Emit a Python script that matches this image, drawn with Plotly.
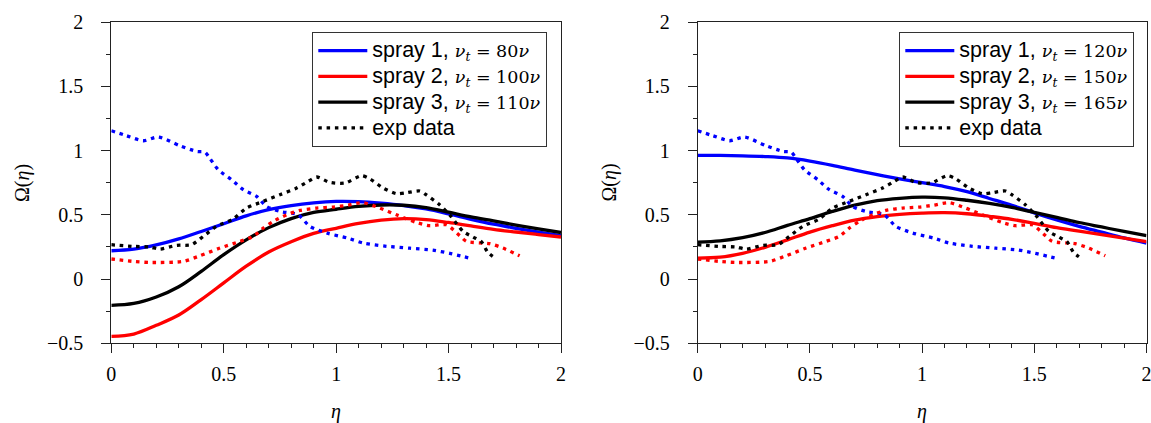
import plotly.graph_objects as go

# ---------------- data ----------------
eta = [0.0, 0.1, 0.2, 0.3, 0.4, 0.5, 0.6, 0.7, 0.8, 0.9, 1.0,
       1.1, 1.2, 1.3, 1.4, 1.5, 1.6, 1.7, 1.8, 1.9, 2.0]

# left panel (nu_t = 80, 100, 110 nu)
left_spray1 = [0.22, 0.232, 0.265, 0.312, 0.37, 0.43, 0.492, 0.54, 0.572, 0.593, 0.604,
               0.602, 0.59, 0.572, 0.545, 0.507, 0.465, 0.427, 0.395, 0.365, 0.337]
left_spray2 = [-0.446, -0.428, -0.36, -0.28, -0.16, -0.03, 0.1, 0.21, 0.29, 0.355, 0.395,
               0.433, 0.458, 0.47, 0.463, 0.44, 0.413, 0.387, 0.366, 0.346, 0.327]
left_spray3 = [-0.205, -0.19, -0.14, -0.06, 0.06, 0.19, 0.305, 0.40, 0.47, 0.518, 0.543,
               0.565, 0.576, 0.574, 0.556, 0.52, 0.483, 0.452, 0.42, 0.39, 0.362]

# right panel (nu_t = 120, 150, 165 nu)
right_spray1 = [0.962, 0.962, 0.959, 0.953, 0.942, 0.918, 0.885, 0.847, 0.812, 0.78, 0.75,
                0.72, 0.68, 0.627, 0.574, 0.515, 0.46, 0.41, 0.365, 0.32, 0.28]
right_spray2 = [0.163, 0.17, 0.2, 0.247, 0.305, 0.365, 0.415, 0.458, 0.485, 0.503, 0.513,
                0.517, 0.508, 0.488, 0.465, 0.433, 0.4, 0.373, 0.345, 0.318, 0.292]
right_spray3 = [0.288, 0.297, 0.322, 0.362, 0.418, 0.47, 0.526, 0.575, 0.61, 0.628, 0.637,
                0.632, 0.613, 0.588, 0.557, 0.518, 0.48, 0.44, 0.405, 0.37, 0.337]

# experimental data (same in both panels)
exp1_eta = [0.0, 0.068, 0.142, 0.209, 0.305, 0.38, 0.416, 0.438, 0.476, 0.535, 0.587,
            0.646, 0.69, 0.75, 0.831, 0.883, 0.958, 1.05, 1.12, 1.224, 1.328, 1.43,
            1.505, 1.565, 1.6]
exp1_val = [1.154, 1.115, 1.076, 1.105, 1.037, 0.993, 0.988, 0.94, 0.85, 0.773, 0.695,
            0.643, 0.565, 0.526, 0.5, 0.41, 0.358, 0.319, 0.28, 0.255, 0.24, 0.225,
            0.2, 0.175, 0.16]

exp2_eta = [0.0, 0.098, 0.172, 0.32, 0.394, 0.483, 0.572, 0.631, 0.676, 0.72, 0.78,
            0.839, 0.913, 0.987, 1.053, 1.12, 1.194, 1.268, 1.357, 1.416, 1.49, 1.55,
            1.58, 1.683, 1.742, 1.816]
exp2_val = [0.156, 0.137, 0.129, 0.137, 0.181, 0.241, 0.293, 0.332, 0.397, 0.448, 0.5,
            0.534, 0.552, 0.56, 0.575, 0.594, 0.552, 0.5, 0.44, 0.415, 0.422, 0.337,
            0.293, 0.275, 0.241, 0.181]

exp3_eta = [0.0, 0.098, 0.172, 0.216, 0.29, 0.357, 0.409, 0.468, 0.542, 0.601, 0.675,
            0.75, 0.824, 0.876, 0.913, 0.972, 1.039, 1.113, 1.15, 1.209, 1.268, 1.313,
            1.372, 1.4, 1.46, 1.505, 1.565, 1.609, 1.646, 1.675, 1.71]
exp3_val = [0.267, 0.254, 0.249, 0.233, 0.262, 0.267, 0.332, 0.41, 0.467, 0.552, 0.604,
            0.656, 0.708, 0.76, 0.794, 0.752, 0.747, 0.804, 0.78, 0.708, 0.664, 0.672,
            0.685, 0.656, 0.578, 0.5, 0.37, 0.327, 0.29, 0.207, 0.16]

left_nu = ["80", "100", "110"]
right_nu = ["120", "150", "165"]

# ---------------- styling ----------------
BLUE, RED, BLACK = "#0000ff", "#ff0000", "#000000"
SERIF = "Liberation Serif"
MATH = "DejaVu Serif"
SANS = "Liberation Sans"
LW = 3.3
DOT = "3.5px,4.8px"


def label(n, nu):
    return (f"<span style=\"font-size:21.5px\">spray {n}, </span>"
            f"<span style=\"font-family:{MATH};font-size:17.5px\"><i>ν</i><sub><i>t</i></sub>"
            f" = {nu}<i>ν</i></span>")


fig = go.Figure()

panels = [
    ("x", "y", "legend", [left_spray1, left_spray2, left_spray3], left_nu),
    ("x2", "y2", "legend2", [right_spray1, right_spray2, right_spray3], right_nu),
]

for xa, ya, lg, sprays, nus in panels:
    for i, (vals, col) in enumerate(zip(sprays, [BLUE, RED, BLACK])):
        fig.add_trace(go.Scatter(
            x=eta, y=vals, mode="lines", xaxis=xa, yaxis=ya, legend=lg,
            line=dict(color=col, width=LW, shape="spline", smoothing=1.0),
            name=label(i + 1, nus[i]), showlegend=True))
    for ex, ey, col, show in [(exp1_eta, exp1_val, BLUE, False),
                              (exp2_eta, exp2_val, RED, False),
                              (exp3_eta, exp3_val, BLACK, True)]:
        fig.add_trace(go.Scatter(
            x=ex, y=ey, mode="lines", xaxis=xa, yaxis=ya, legend=lg,
            line=dict(color=col, width=LW, dash=DOT, shape="spline", smoothing=0.7),
            name="<span style=\"font-size:21.5px\">exp data</span>", showlegend=show))

# Figure fills the whole window; the page margin is removed in post_script.
W, H = 1151, 423


def px(v):  # window x pixel -> paper fraction
    return v / W


def py(v):  # window y pixel (from top) -> paper fraction
    return 1 - v / H


x_dom1 = [px(111.3), px(561.0)]
x_dom2 = [px(697.7), px(1146.5)]
y_dom = [py(343.3), py(22.0)]

axis_common = dict(
    showline=True, linecolor="#222", linewidth=1, mirror=True, automargin=False,
    showgrid=False, zeroline=False, ticks="outside", ticklen=9, tickwidth=1,
    tickcolor="#222", tickfont=dict(family=SERIF, size=20, color="black"),
    ticklabeloverflow="allow",
)

xaxis_kw = dict(axis_common, range=[0, 2], tick0=0, dtick=0.5, ticklabelstandoff=4,
                minor=dict(dtick=0.1, ticks="outside", ticklen=4, tickwidth=1,
                           tickcolor="#222", showgrid=False))
yaxis_kw = dict(axis_common, range=[-0.5, 2], tick0=0, dtick=0.5, ticklabelstandoff=14,
                minor=dict(dtick=0.25, ticks="outside", ticklen=4, tickwidth=1,
                           tickcolor="#222", showgrid=False))

legend_kw = dict(
    font=dict(family=SANS, size=17.5, color="black"),
    bgcolor="white", bordercolor="#333", borderwidth=1,
    xanchor="right", yanchor="top", itemwidth=49,
)

fig.update_layout(
    template="none",
    width=W, height=H, autosize=False,
    margin=dict(l=0, r=0, t=0, b=0, autoexpand=False),
    paper_bgcolor="white", plot_bgcolor="white",
    xaxis=dict(xaxis_kw, domain=x_dom1, anchor="y"),
    yaxis=dict(yaxis_kw, domain=y_dom, anchor="x"),
    xaxis2=dict(xaxis_kw, domain=x_dom2, anchor="y2"),
    yaxis2=dict(yaxis_kw, domain=y_dom, anchor="x2"),
    legend=dict(legend_kw, x=px(547.3), y=py(31.7)),
    legend2=dict(legend_kw, x=px(1134.3), y=py(31.7)),
    showlegend=True,
)

title_font = dict(family=SERIF, size=20, color="black")
for xc in [336.0, 922.0]:
    fig.add_annotation(text="<i>η</i>", xref="paper", yref="paper",
                       x=px(xc), y=py(411), showarrow=False, font=title_font,
                       xanchor="center", yanchor="middle")
for xc in [22.0, 608.5]:
    fig.add_annotation(text="Ω(<i>η</i>)", xref="paper", yref="paper",
                       x=px(xc), y=py(183), showarrow=False, font=title_font,
                       textangle=-90, xanchor="center", yanchor="middle")

post = ("document.documentElement.style.overflow='hidden';"
        "document.body.style.overflow='hidden';"
        "document.body.style.margin='0px';")

fig.write_html("out.html", post_script=post, config={"displayModeBar": False})
